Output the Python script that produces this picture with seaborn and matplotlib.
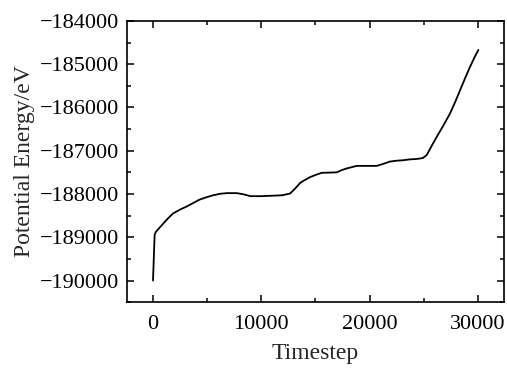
import matplotlib
matplotlib.use("Agg")
import matplotlib.pyplot as plt
import seaborn as sns
import pandas as pd
from matplotlib.ticker import MultipleLocator, FuncFormatter

timestep = [0, 150, 250, 600, 1000, 1400, 1850, 2500, 3100, 3700, 4300, 5000, 5550, 6200, 6800,
            7750, 8400, 9000, 10000, 11000, 11900, 12650, 13100, 13600, 14000, 14500, 15000,
            15580, 16300, 16960, 17400, 17880, 18800, 19700, 20650, 21300, 21880, 22500, 23080,
            23700, 24350, 24900, 25270, 25700, 26190, 26800, 27420, 27900, 28350, 28800, 29270,
            29700, 30040]
energy = [-190000, -188950, -188880, -188780, -188670, -188560, -188450, -188360, -188290,
          -188210, -188130, -188070, -188030, -187995, -187980, -187980, -188010, -188050,
          -188050, -188040, -188030, -187990, -187880, -187740, -187680, -187610, -187560,
          -187510, -187505, -187500, -187450, -187410, -187350, -187350, -187350, -187300,
          -187250, -187230, -187220, -187200, -187190, -187170, -187100, -186900, -186680,
          -186420, -186140, -185870, -185600, -185330, -185060, -184830, -184670]

df = pd.DataFrame({"Timestep": timestep, "Energy": energy})

sns.set_style("ticks")
plt.rcParams['font.family'] = ['Liberation Serif', 'DejaVu Serif']

fig = plt.figure(figsize=(5.07, 3.68), dpi=100)
ax = fig.add_axes([0.2505, 0.179, 0.7435, 0.764])
sns.lineplot(data=df, x="Timestep", y="Energy", ax=ax, color="black", linewidth=1.3)

ax.set_xlim(-2400, 32400)
ax.set_ylim(-190500, -184000)
ax.xaxis.set_major_locator(MultipleLocator(10000))
ax.xaxis.set_minor_locator(MultipleLocator(5000))
ax.yaxis.set_major_locator(MultipleLocator(1000))
ax.yaxis.set_minor_locator(MultipleLocator(500))
ax.yaxis.set_major_formatter(FuncFormatter(lambda v, p: f"{int(v)}".replace("-", "\u2212")))
ax.xaxis.set_major_formatter(FuncFormatter(lambda v, p: f"{int(v)}"))
ax.tick_params(which="both", direction="in", top=True, right=True, width=1.1, labelsize=16, colors="black")
ax.tick_params(which="major", length=5, pad=6)
ax.tick_params(axis="x", which="major", pad=9)
ax.tick_params(which="minor", length=3)
for s in ax.spines.values():
    s.set_linewidth(1.2)
    s.set_color("black")
ax.set_xlabel("Timestep", fontsize=17, labelpad=7)
ax.set_ylabel("Potential Energy/eV", fontsize=17, labelpad=3)

fig.savefig("out.png", dpi=100)
